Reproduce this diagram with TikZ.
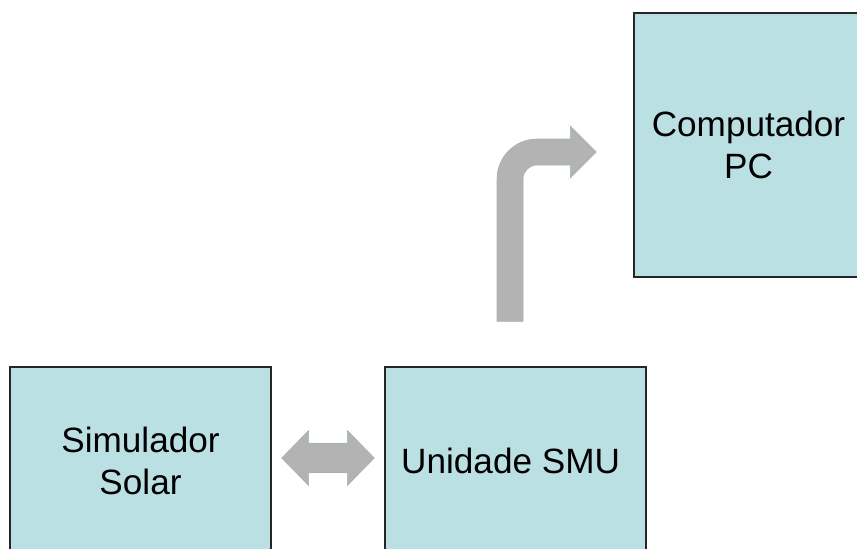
\documentclass[tikz,border=0pt]{standalone}
\usepackage{fontspec}
\setmainfont{Liberation Sans}
\usetikzlibrary{calc}
\definecolor{boxcyan}{HTML}{BBE0E3}
\definecolor{arrowgray}{HTML}{B3B3B3}
\definecolor{arrowedge}{HTML}{9DB3B3}

\tikzset{
  block/.style={rectangle, draw=black!85, line width=1pt, fill=boxcyan, align=center,
    font=\fontsize{25}{30}\selectfont},
  fatarrow/.style={fill=arrowgray, draw=arrowedge, line width=0.4pt}
}

\begin{document}
\begin{tikzpicture}
      \clip (0,0) rectangle (21.425,13.7);
      % Blocks
      \node[block, minimum width=6.525cm, minimum height=4.7cm] (sim) at (3.5125,2.175) {
        Simulador\\
        Solar
      };

      \node[block, minimum width=6.525cm, minimum height=4.7cm] (smu) at (12.8875,2.175) {
        Unidade SMU
      };

      \node[block, minimum width=5.725cm, minimum height=6.6cm] (pc) at (18.7125,10.075) {
        Computador\\
        PC
      };

      % Double arrow between simulator and SMU
      \coordinate (da1) at ($(sim.east)+(0.25,0.075)$);
      \coordinate (da2) at ($(smu.west)+(-0.25,0.075)$);
      \draw[fatarrow] (da1) -- ++(0.675,0.6875) -- ++(0,-0.325)
        -- ($(da2)+(-0.675,0.3625)$) -- ++(0,0.325) -- (da2)
        -- ++(-0.675,-0.6875) -- ++(0,0.325)
        -- ($(da1)+(0.675,-0.3625)$) -- ++(0,-0.325) -- cycle;

      % Bent arrow from SMU to PC
      \coordinate (bs) at ($(smu.north)+(-0.1375,1.125)$);
      \coordinate (be) at ($(pc.west)+(-0.925,-0.175)$);
      \draw[fatarrow] ($(bs)+(-0.325,0)$) -- ($(bs |- be)+(-0.325,-0.675)$)
        arc[start angle=180, end angle=90, radius=1]
        -- ($(be)+(-0.65,0.325)$) -- ++(0,0.325) -- (be)
        -- ++(-0.65,-0.65) -- ++(0,0.325)
        -- ($(bs |- be)+(0.675,-0.325)$)
        arc[start angle=90, end angle=180, radius=0.35]
        -- ($(bs)+(0.325,0)$) -- cycle;
    \end{tikzpicture}
\end{document}
